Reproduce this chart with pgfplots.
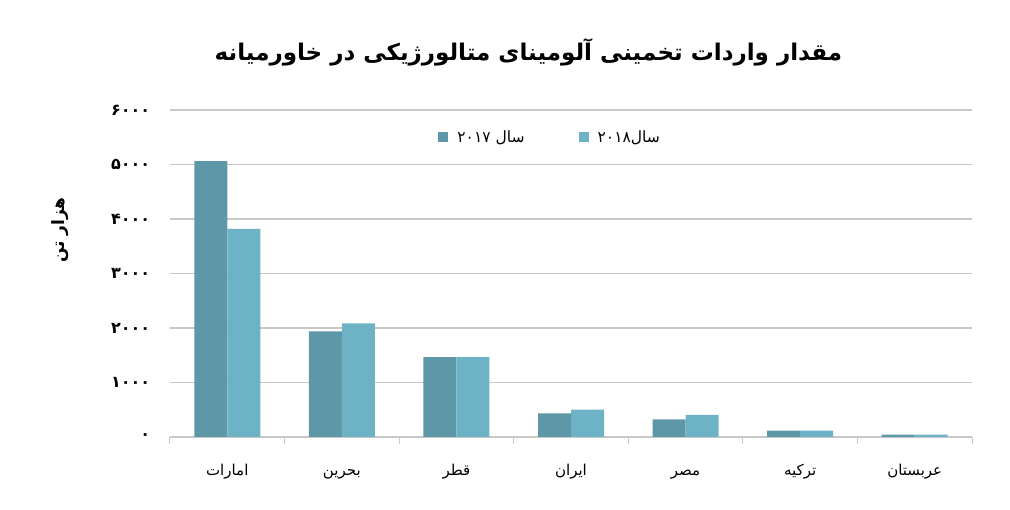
\documentclass[border=0pt]{standalone}
\usepackage{pgfplots}
\pgfplotsset{compat=1.18}
\usepackage{fontspec}
\setmainfont{DejaVu Sans}
\newfontfamily\arabicfont[Script=Arabic]{DejaVu Sans}
\TeXXeTstate=1
\definecolor{cA}{HTML}{5E98A8}
\definecolor{cB}{HTML}{6EB3C5}
\definecolor{gridc}{HTML}{C8C8C8}
\begin{document}
\begin{tikzpicture}
\path[use as bounding box] (0,0) rectangle (1010pt,510pt);
\begin{axis}[
  at={(170pt,73pt)}, anchor=south west,
  scale only axis, width=802pt, height=327pt,
  ybar=0pt, bar width=33pt,
  xmin=-0.5, xmax=6.5, ymin=0, ymax=6000,
  xtick={0,...,6},
  xticklabels={{\arabicfont\beginR امارات\endR},{\arabicfont\beginR بحرین\endR},{\arabicfont\beginR قطر\endR},{\arabicfont\beginR ایران\endR},{\arabicfont\beginR مصر\endR},{\arabicfont\beginR ترکیه\endR},{\arabicfont\beginR عربستان\endR}},
  minor xtick={-0.5,0.5,...,6.5},
  major x tick style={draw=none},
  minor x tick style={draw=gridc, line width=1pt},
  minor tick length=7pt,
  tick align=outside,
  xtick pos=bottom,
  ytick={0,1000,...,6000},
  yticklabels={{\arabicfont\bfseries ۰},{\arabicfont\bfseries ۱۰۰۰},{\arabicfont\bfseries ۲۰۰۰},{\arabicfont\bfseries ۳۰۰۰},{\arabicfont\bfseries ۴۰۰۰},{\arabicfont\bfseries ۵۰۰۰},{\arabicfont\bfseries ۶۰۰۰}},
  ytick style={draw=none},
  axis x line*=bottom,
  axis y line*=left,
  y axis line style={draw=none},
  x axis line style={draw=gridc, line width=1.2pt, -},
  ymajorgrids, grid style={gridc, line width=1.2pt},
  yticklabel style={font=\fontsize{16}{18}\selectfont, xshift=-12pt},
  xticklabel style={font=\fontsize{15}{17}\selectfont, text height=12pt, text depth=5pt, anchor=north, yshift=-19pt},
  ylabel={\arabicfont\bfseries\beginR هزار تن\endR},
  ylabel style={font=\fontsize{17}{19}\selectfont, at={(axis description cs:-0.137,0.633)}, anchor=center},
  legend columns=2,
  legend style={draw=none, fill=none, at={(axis description cs:0.474,0.917)}, anchor=center,
    font=\fontsize{15.5}{17}\selectfont,
    /tikz/every even column/.append style={column sep=52pt},
    /tikz/every odd column/.append style={column sep=7pt}},
  legend image code/.code={\fill[#1] (0pt,-4.5pt) rectangle (10pt,5pt);},
  title={\arabicfont\bfseries\beginR مقدار واردات تخمینی آلومینای متالورژیکی در خاورمیانه\endR},
  title style={font=\fontsize{23}{27}\selectfont, at={(axis description cs:0.447,1.0)}, anchor=south, yshift=34pt},
  clip=false,
]
\addplot[fill=cA, draw=none] coordinates {(0,5060) (1,1940) (2,1465) (3,435) (4,325) (5,115) (6,45)};
\addplot[fill=cB, draw=none] coordinates {(0,3820) (1,2085) (2,1465) (3,500) (4,405) (5,115) (6,45)};
\legend{{\arabicfont\beginR سال \beginL۲۰۱۷\endL\endR},{\arabicfont\beginR سال\beginL۲۰۱۸\endL\endR}}
\end{axis}
\end{tikzpicture}
\end{document}
